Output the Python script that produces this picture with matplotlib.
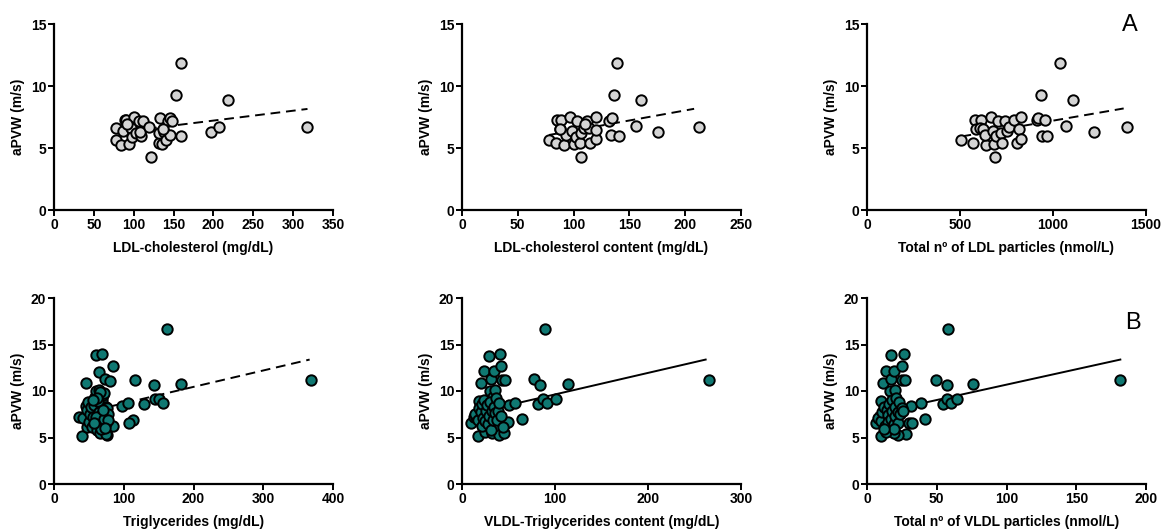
import matplotlib
matplotlib.use("Agg")
import matplotlib.pyplot as plt
import numpy as np

plt.rcParams['font.family'] = ['Liberation Sans', 'DejaVu Sans']

# ---- top row data (aPWV vs LDL measures) ----
ldl_x = [78, 78, 84.5, 86.6, 88.7, 90.8, 94, 97, 98, 100.4, 102.5, 106.6, 108.7, 107.5,
         111.7, 119, 121.3, 131.7, 132.6, 131.7, 135.5, 138, 141, 143, 146, 145, 147.6,
         153.5, 159.8, 159.8, 196.6, 206.6, 218.3, 317.4, 137, 92]
ldl_y = [6.6, 5.65, 5.25, 6.38, 7.22, 7.27, 5.33, 6.6, 5.85, 7.54, 6.2, 7.14, 5.93, 6.33,
         7.14, 6.73, 4.26, 5.44, 7.4, 6.2, 5.33, 6.33, 5.65, 7.14, 7.4, 6.06, 7.14,
         9.24, 11.85, 6.0, 6.3, 6.73, 8.89, 6.68, 6.5, 6.9]
ldl_line_x = [78, 318]
ldl_line_y = [6.24, 8.15]

ldlc_x = [78.1, 84.4, 85.3, 87.4, 88.9, 91.3, 92.8, 96.4, 98.8, 100.3, 101.8, 103.3,
          105.4, 106.3, 106.9, 109.3, 112.3, 113.8, 114.7, 119.8, 120.4, 120.4, 131.7,
          133.2, 134.7, 136.2, 139.2, 140.7, 155.7, 160.8, 176, 212, 110, 88]
ldlc_y = [5.65, 5.44, 7.27, 6.52, 7.22, 5.25, 6.06, 7.54, 6.38, 5.33, 5.87, 7.14,
          5.44, 4.26, 6.2, 6.65, 7.14, 6.6, 5.39, 7.46, 5.71, 6.46, 7.14,
          6.06, 7.4, 9.24, 11.85, 6.0, 6.79, 8.89, 6.3, 6.68, 6.9, 6.5]
ldlc_line_x = [78, 208]
ldlc_line_y = [6.05, 8.16]

ldlp_x = [505, 571, 580, 586, 612, 607, 625, 640, 634, 665, 679, 685, 688, 693, 706,
          720, 724, 742, 751, 765, 792, 808, 819, 826, 828, 912, 921, 936, 939, 957,
          966, 1038, 1069, 1107, 1223, 1397]
ldlp_y = [5.65, 5.44, 7.27, 6.52, 7.22, 6.6, 6.52, 5.25, 6.06, 7.54, 6.38, 5.33, 4.26,
          5.93, 7.14, 6.2, 5.44, 7.14, 6.38, 6.73, 7.27, 5.39, 6.52, 5.71, 7.46, 7.22,
          7.4, 9.24, 6.0, 7.22, 6.0, 11.85, 6.79, 8.89, 6.3, 6.68]
ldlp_line_x = [508, 1380]
ldlp_line_y = [5.93, 8.19]

# ---- bottom row data (aPWV vs TG / VLDL measures) ----
tg_x = [35.8, 41.6, 40.6, 45.4, 60.2, 69.3, 85, 65, 73, 80, 116, 97, 105.6, 112.8, 108,
        85, 128.6, 143.4, 145.3, 150, 156.3, 162.5, 181.6, 368, 75.5,
        45.4, 47.3, 47.3, 48.7, 50.2, 52, 53.5, 55, 55.9, 57.3, 58.3, 59.7, 61.6, 62.1,
        64, 64.5, 65.5, 66.4, 67.9, 68.8, 69.3, 70.3, 71.2, 71.7, 74, 74, 75, 76, 77.4,
        60, 63, 67, 72, 58, 70, 66, 62, 78, 56, 73]
tg_y = [7.16, 7.05, 5.15, 10.9, 13.87, 13.98, 12.65, 12.08, 11.3, 11.1, 11.23, 8.4, 8.74,
        6.88, 6.53, 6.24, 8.59, 10.63, 9.09, 9.09, 8.66, 16.64, 10.73, 11.16, 5.3,
        8.37, 7.94, 6.15, 8.84, 6.69, 7.58, 8.3, 6.15, 7.23, 8.48, 9.37, 10.0, 5.8, 6.69,
        7.76, 10.09, 5.44, 8.66, 6.15, 7.51, 9.02, 9.55, 6.94, 9.8, 8.3, 5.37, 6.51, 8.12,
        7.51, 7.2, 8.9, 5.9, 7.0, 6.6, 8.0, 9.9, 9.2, 6.9, 9.0, 6.0]
tg_line_x = [36, 366.5]
tg_line_y = [7.55, 13.38]

vtg_x = [10, 12.6, 15.5, 16.9, 18.7, 20.5, 23.4, 24.4, 25.9, 25.1, 28.7, 29.8, 31.3,
         32.3, 33.4, 34.1, 34.9, 35.2, 35.9, 37, 37.7, 39.5, 41.3, 42.4, 43.1, 44.9,
         46.7, 47.8, 49.2, 50.3, 57.5, 64, 77.3, 83.4, 82, 87, 88.8, 91.6, 100.6,
         114.3, 265.2,
         14, 17, 18, 20, 21, 22, 23, 24, 25, 26, 27, 28, 29, 30, 31, 32, 33, 34, 36,
         37, 38, 39, 40, 42, 44]
vtg_y = [6.51, 7.23, 7.23, 5.15, 8.94, 10.88, 12.13, 6.15, 8.0, 5.62, 13.77, 9.98, 11.34,
         5.44, 9.37, 6.33, 12.13, 10.16, 8.73, 7.51, 5.97, 5.26, 13.95, 12.67, 11.16, 5.44,
         11.16, 6.51, 6.69, 8.48, 8.73, 6.94, 11.27, 10.63, 8.59, 9.09, 16.64, 8.66, 9.09,
         10.73, 11.16,
         7.5, 6.9, 8.2, 7.7, 6.2, 8.6, 7.1, 9.0, 6.8, 7.8, 8.5, 6.5, 7.3, 8.8, 5.8, 7.9,
         6.9, 8.3, 7.6, 9.3, 6.9, 7.9, 8.7, 7.3, 6.1]
vtg_line_x = [10, 262]
vtg_line_y = [7.55, 13.38]

vp_x = [6.7, 9.1, 10.3, 11.5, 10.3, 13.9, 17, 17.5, 19.4, 16.3, 20.4, 26.6, 25.1, 25.4,
        27.5, 27.8, 22.3, 19.2, 30.2, 31.9, 31.4, 38.6, 41.9, 49.8, 57, 54.6, 57, 58.2,
        59.9, 64.7, 76.2, 181.6, 13.9,
        8, 10, 11, 12, 13, 14, 15, 15, 16, 17, 18, 18, 19, 20, 20, 21, 22, 22, 23, 24,
        25, 26, 19, 12]
vp_y = [6.51, 7.23, 5.15, 10.88, 8.94, 12.13, 13.85, 11.34, 12.13, 9.98, 10.16, 13.95,
        12.67, 11.16, 11.16, 5.37, 5.26, 5.44, 6.51, 6.58, 8.41, 8.73, 6.94, 11.23, 10.63,
        8.59, 9.09, 16.64, 8.66, 9.09, 10.73, 11.16, 5.62,
        7.1, 6.8, 7.7, 8.3, 6.2, 8.0, 7.4, 6.7, 8.6, 7.0, 7.9, 9.0, 6.4, 8.3, 7.3, 9.3,
        7.7, 6.6, 8.8, 7.5, 8.2, 7.9, 5.9, 5.9]
vp_line_x = [6.7, 181.6]
vp_line_y = [7.6, 13.38]

gray = '#d4d4d4'
teal = '#0f7872'

panels = [
    (ldl_x, ldl_y, ldl_line_x, ldl_line_y, 'LDL-cholesterol (mg/dL)', 350, 50, 15, gray, '--'),
    (ldlc_x, ldlc_y, ldlc_line_x, ldlc_line_y, 'LDL-cholesterol content (mg/dL)', 250, 50, 15, gray, '--'),
    (ldlp_x, ldlp_y, ldlp_line_x, ldlp_line_y, 'Total nº of LDL particles (nmol/L)', 1500, 500, 15, gray, '--'),
    (tg_x, tg_y, tg_line_x, tg_line_y, 'Triglycerides (mg/dL)', 400, 100, 20, teal, '--'),
    (vtg_x, vtg_y, vtg_line_x, vtg_line_y, 'VLDL-Triglycerides content (mg/dL)', 300, 100, 20, teal, '-'),
    (vp_x, vp_y, vp_line_x, vp_line_y, 'Total nº of VLDL particles (nmol/L)', 200, 50, 20, teal, '-'),
]

fig = plt.figure(figsize=(11.62, 5.30), dpi=100)
W, H = 1162, 530
lefts = [54, 462, 867]
tops = [24, 298]
aw, ah = 279, 186

for i, (x, y, lx, ly, xlabel, xmax, xstep, ymax, col, ls) in enumerate(panels):
    r, c = divmod(i, 3)
    ax = fig.add_axes([lefts[c] / W, 1 - (tops[r] + ah) / H, aw / W, ah / H])
    ax.plot(lx, ly, color='black', lw=1.4, ls=ls, dashes=(5, 3) if ls == '--' else (None, None),
            zorder=2)
    ax.scatter(x, y, s=56, facecolor=col, edgecolor='black', linewidths=1.4, zorder=3,
               clip_on=False)
    ax.set_xlim(0, xmax)
    ax.set_ylim(0, ymax)
    ax.set_xticks(np.arange(0, xmax + 1, xstep))
    ax.set_yticks(np.arange(0, ymax + 1, 5))
    for s in ['top', 'right']:
        ax.spines[s].set_visible(False)
    for s in ['left', 'bottom']:
        ax.spines[s].set_linewidth(1.6)
    ax.tick_params(direction='out', length=4, width=1.4, pad=1.5, labelsize=10)
    for lab in ax.get_xticklabels() + ax.get_yticklabels():
        lab.set_fontweight('bold')
    ax.set_xlabel(xlabel, fontsize=10, fontweight='bold', labelpad=7)
    ax.set_ylabel('aPVW (m/s)', fontsize=10, fontweight='bold', labelpad=4)

fig.text(1130 / W, 1 - 25 / H, 'A', fontsize=17, ha='center', va='center')
fig.text(1133 / W, 1 - 323 / H, 'B', fontsize=17, ha='center', va='center')

fig.savefig('out.png', dpi=100)
